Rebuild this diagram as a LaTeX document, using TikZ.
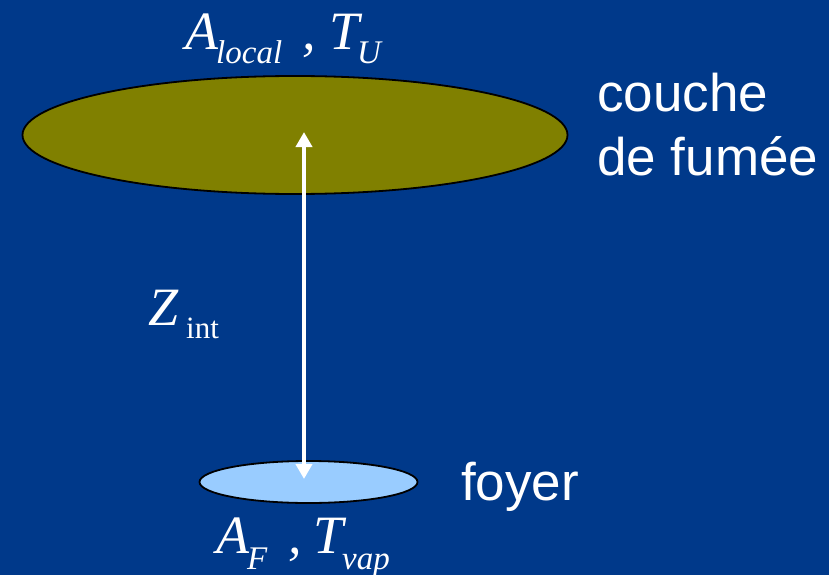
\documentclass[tikz,border=0pt]{standalone}
\usepackage{fontspec}
\setmainfont{Liberation Serif}
\newfontfamily\arialf{Liberation Sans}
\usetikzlibrary{shapes.geometric,arrows.meta}
\definecolor{bg}{RGB}{0,57,138}
\definecolor{olivefill}{RGB}{128,128,0}
\definecolor{lightblue}{RGB}{153,204,255}
\tikzset{
  disc/.style={ellipse, draw=black, line width=1.8pt, inner sep=0pt},
  big/.style={text=white, font=\fontsize{54}{60}\selectfont\itshape, inner sep=0pt, anchor=base west},
  sub/.style={text=white, font=\fontsize{33}{38}\selectfont\itshape, inner sep=0pt, anchor=base west},
  subup/.style={text=white, font=\fontsize{31}{36}\selectfont, inner sep=0pt, anchor=base west},
  label/.style={text=white, font=\arialf\fontsize{53}{63}\selectfont, inner sep=0pt, anchor=base west, align=left},
  vert/.style={white, line width=4.5pt, {Triangle[width=16pt,length=15pt]}-{Triangle[width=16pt,length=15pt]}}
}
\begin{document}
\begin{tikzpicture}[x=1pt,y=-1pt]
\useasboundingbox[fill=bg] (0,0) rectangle (829,575);
\node[disc, fill=olivefill, minimum width=545pt, minimum height=118pt] (smoke) at (295,135) {};
\node[disc, fill=lightblue, minimum width=218pt, minimum height=42pt] (fire) at (308.5,482) {};
\coordinate (top) at (304,132);
\coordinate (bot) at (304,479);
\draw[vert] (bot) -- (top);
% top labels
\node[big] (Aloc) at (185,50) {A};
\node[sub] (loc) at (216,64) {local};
\node[big] (c1) at (302,50) {,};
\node[big] (TU) at (329,50) {T};
\node[sub] (U) at (357,64) {U};
% bottom labels
\node[big] (AF) at (216,553) {A};
\node[sub] (F) at (247,569) {F};
\node[big] (c2) at (288,553) {,};
\node[big] (Tv) at (313,553) {T};
\node[sub] (vap) at (342,569) {vap};
% Z int
\node[big] (Z) at (148,325) {Z};
\node[subup] (int) at (186,338) {int};
% french labels
\node[label] (couche) at (597,175) {couche\\de fumée};
\node[label] (foyer) at (461,500) {foyer};
\end{tikzpicture}
\end{document}
